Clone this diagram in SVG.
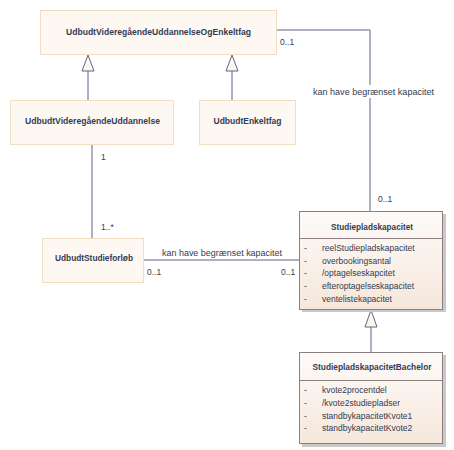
<svg xmlns="http://www.w3.org/2000/svg" width="454" height="450" viewBox="0 0 454 450">
<style>
.box{fill:#fef8f3;stroke:#f3dcc4;stroke-width:1}
.cls{fill:url(#g);stroke:#8d7f80;stroke-width:1}
.sh{fill:#c9c9c9}
.name{font-family:"Liberation Sans",Arial,sans-serif;font-size:8.5px;font-weight:bold;fill:#333b52;text-anchor:middle}
.t{font-family:"Liberation Sans",Arial,sans-serif;font-size:8.5px;fill:#333b52}
.lbl{font-family:"Liberation Sans",Arial,sans-serif;font-size:8.5px;fill:#333b52}
.c{fill:none;stroke:#5d6781;stroke-width:1}
.tri{fill:#fdf5f0;stroke:#5d6781;stroke-width:1}
.sep{stroke:#8d7f80;stroke-width:1}
</style>
<defs>
<linearGradient id="g" x1="0" y1="0" x2="0" y2="1">
<stop offset="0" stop-color="#fdfbf9"/>
<stop offset="1" stop-color="#f6e7db"/>
</linearGradient>
</defs>
<rect width="454" height="450" fill="#ffffff"/>
<g id="connectors">
<path class="c" d="M88,100 V71"/>
<polygon class="tri" points="88,55 82,71 94,71"/>
<path class="c" d="M232,100 V71"/>
<polygon class="tri" points="232,55 226,71 238,71"/>
<path class="c" d="M371,352 V327"/>
<polygon class="tri" points="371,310 365,327 377,327"/>
<path class="c" d="M92,144 V238"/>
<path class="c" d="M143,260 H299"/>
<path class="c" d="M277,30 H370 V211"/>
<rect x="311" y="85" width="125" height="13" fill="#ffffff"/>
<text class="lbl" x="373.5" y="95" text-anchor="middle" textLength="121" lengthAdjust="spacingAndGlyphs">kan have begrænset kapacitet</text>
<text class="lbl" x="222" y="256" text-anchor="middle" textLength="120" lengthAdjust="spacingAndGlyphs">kan have begrænset kapacitet</text>
<text class="lbl" x="280" y="45">0..1</text>
<text class="lbl" x="378" y="202">0..1</text>
<text class="lbl" x="101" y="160">1</text>
<text class="lbl" x="101" y="230">1..*</text>
<text class="lbl" x="147" y="275">0..1</text>
<text class="lbl" x="281" y="275">0..1</text>
</g>
<g id="UdbudtVideregaaendeUddannelseOgEnkeltfag">
<rect class="box" x="40.5" y="10.5" width="236" height="44"/>
<text class="name" x="158.5" y="35" textLength="185" lengthAdjust="spacingAndGlyphs">UdbudtVideregåendeUddannelseOgEnkeltfag</text>
</g>
<g id="UdbudtVideregaaendeUddannelse">
<rect class="box" x="10.5" y="100.5" width="163" height="44"/>
<text class="name" x="92.5" y="124" textLength="135" lengthAdjust="spacingAndGlyphs">UdbudtVideregåendeUddannelse</text>
</g>
<g id="UdbudtEnkeltfag">
<rect class="box" x="199.5" y="100.5" width="96" height="44"/>
<text class="name" x="247.5" y="124">UdbudtEnkeltfag</text>
</g>
<g id="UdbudtStudieforloeb">
<rect class="box" x="42.5" y="238.5" width="101" height="44"/>
<text class="name" x="94" y="261" textLength="78" lengthAdjust="spacingAndGlyphs">UdbudtStudieforløb</text>
</g>
<g id="Studiepladskapacitet">
<rect class="sh" x="302" y="214" width="144" height="98"/>
<rect class="cls" x="299.5" y="211.5" width="143" height="98"/>
<line class="sep" x1="299.5" y1="238.5" x2="442.5" y2="238.5"/>
<text class="name" x="372" y="230" textLength="82" lengthAdjust="spacingAndGlyphs">Studiepladskapacitet</text>
<g class="t">
<text x="304" y="251">-</text><text x="322" y="251">reelStudiepladskapacitet</text>
<text x="304" y="264">-</text><text x="322" y="264">overbookingsantal</text>
<text x="304" y="276">-</text><text x="322" y="276">/optagelseskapcitet</text>
<text x="304" y="289">-</text><text x="322" y="289">efteroptagelseskapacitet</text>
<text x="304" y="302">-</text><text x="322" y="302">ventelistekapacitet</text>
</g>
</g>
<g id="StudiepladskapacitetBachelor">
<rect class="sh" x="302" y="355" width="144" height="92"/>
<rect class="cls" x="299.5" y="352.5" width="143" height="91"/>
<line class="sep" x1="299.5" y1="380.5" x2="442.5" y2="380.5"/>
<text class="name" x="372" y="370" textLength="119" lengthAdjust="spacingAndGlyphs">StudiepladskapacitetBachelor</text>
<g class="t">
<text x="304" y="393">-</text><text x="322" y="393">kvote2procentdel</text>
<text x="304" y="406">-</text><text x="322" y="406">/kvote2studiepladser</text>
<text x="304" y="419">-</text><text x="322" y="419">standbykapacitetKvote1</text>
<text x="304" y="431">-</text><text x="322" y="431">standbykapacitetKvote2</text>
</g>
</g>
</svg>
